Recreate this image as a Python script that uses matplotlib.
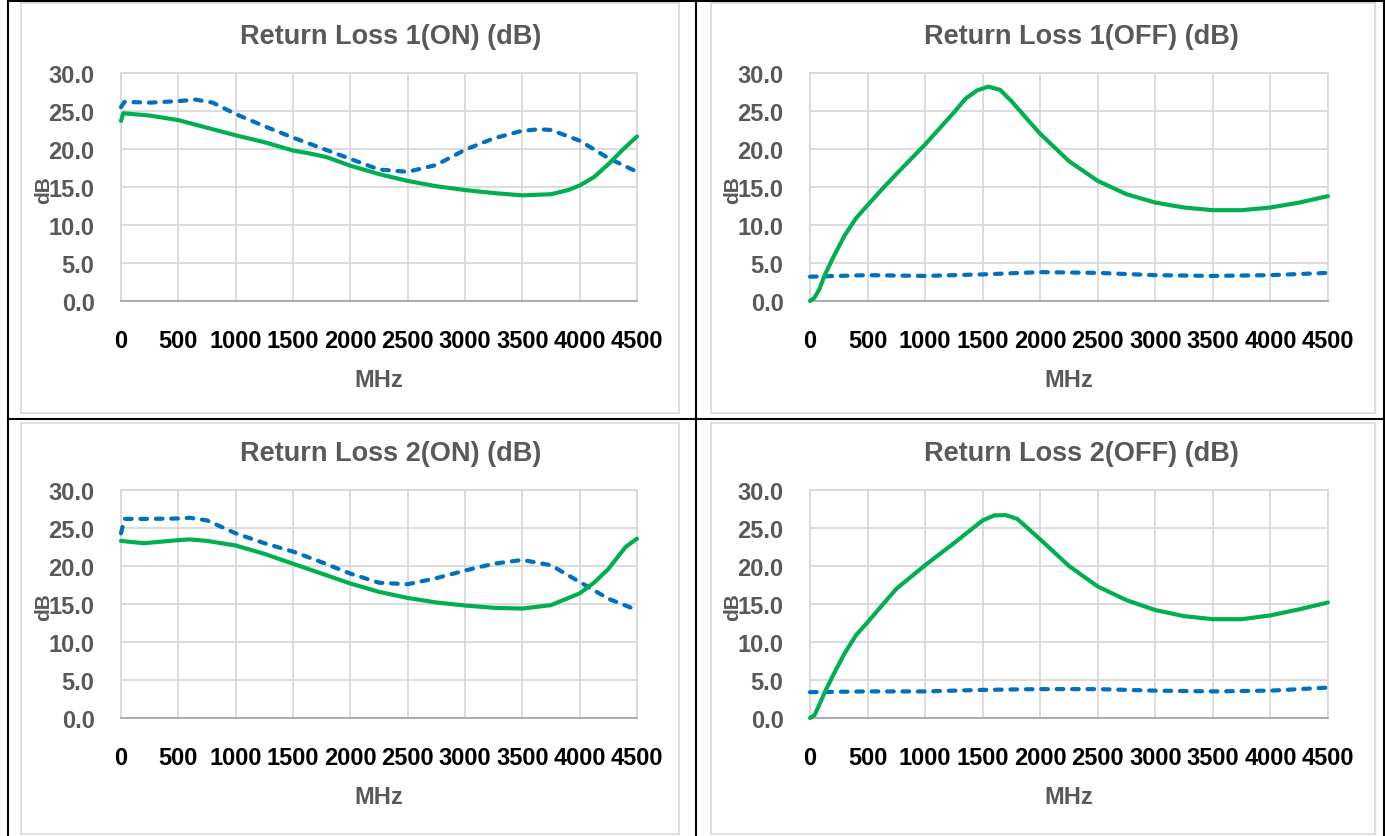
import matplotlib.pyplot as plt
from matplotlib.lines import Line2D
from matplotlib.ticker import FormatStrFormatter

# ---- data (MHz, dB) ----
titles = ["Return Loss 1(ON) (dB)", "Return Loss 1(OFF) (dB)",
          "Return Loss 2(ON) (dB)", "Return Loss 2(OFF) (dB)"]
x_ticks = [0, 500, 1000, 1500, 2000, 2500, 3000, 3500, 4000, 4500]
y_ticks = [0, 5, 10, 15, 20, 25, 30]

# Return Loss 1 (ON)
on1_green_f = [0, 20, 250, 500, 750, 1000, 1250, 1500, 1650, 1800, 2000, 2250, 2500, 2750,
               3000, 3250, 3500, 3750, 3900, 4000, 4125, 4250, 4375, 4500]
on1_green_db = [23.7, 24.7, 24.4, 23.8, 22.8, 21.8, 20.9, 19.8, 19.4, 18.9, 17.8, 16.7, 15.8, 15.1,
                14.6, 14.2, 13.9, 14.05, 14.6, 15.2, 16.3, 18.0, 19.9, 21.65]
on1_blue_f = [0, 30, 250, 500, 650, 800, 1000, 1250, 1500, 1750, 2000, 2250, 2500, 2750,
              3000, 3250, 3500, 3650, 3750, 4000, 4250, 4500]
on1_blue_db = [25.5, 26.2, 26.1, 26.3, 26.5, 26.1, 24.6, 23.0, 21.5, 20.1, 18.7, 17.3, 17.0, 17.9,
               19.9, 21.4, 22.4, 22.6, 22.5, 21.1, 18.8, 17.0]

# Return Loss 1 (OFF)
off1_green_f = [0, 40, 80, 125, 200, 300, 400, 500, 625, 750, 1000, 1250, 1350, 1450, 1550,
                1650, 1750, 1900, 2000, 2250, 2500, 2750, 3000, 3250, 3500, 3750, 4000, 4250, 4500]
off1_green_db = [0.0, 0.45, 1.5, 3.3, 5.7, 8.6, 10.9, 12.6, 14.7, 16.7, 20.6, 24.8, 26.6, 27.7, 28.2,
                 27.8, 26.3, 23.7, 22.0, 18.4, 15.8, 14.05, 12.95, 12.3, 11.95, 11.95, 12.3, 12.95, 13.8]
off1_blue_f = [0, 500, 1000, 1500, 2000, 2500, 3000, 3500, 4000, 4500]
off1_blue_db = [3.2, 3.4, 3.3, 3.5, 3.8, 3.7, 3.4, 3.3, 3.4, 3.7]

# Return Loss 2 (ON)
on2_green_f = [0, 200, 500, 600, 750, 1000, 1250, 1500, 1750, 2000, 2250, 2500, 2750,
               3000, 3250, 3500, 3750, 4000, 4125, 4250, 4400, 4500]
on2_green_db = [23.3, 23.0, 23.4, 23.5, 23.3, 22.7, 21.6, 20.3, 19.0, 17.7, 16.6, 15.8, 15.2,
                14.8, 14.5, 14.4, 14.85, 16.4, 17.8, 19.6, 22.5, 23.6]
on2_blue_f = [0, 30, 250, 500, 600, 750, 1000, 1250, 1500, 1750, 2000, 2250, 2500, 2750,
              3000, 3250, 3500, 3750, 4000, 4250, 4500]
on2_blue_db = [24.3, 26.2, 26.2, 26.25, 26.35, 26.0, 24.3, 23.0, 21.9, 20.5, 19.0, 17.8, 17.6, 18.4,
               19.4, 20.3, 20.8, 20.1, 17.9, 15.7, 14.2]

# Return Loss 2 (OFF)
off2_green_f = [0, 40, 80, 125, 200, 300, 400, 500, 750, 1000, 1250, 1500, 1600, 1700, 1800,
                2000, 2250, 2500, 2750, 3000, 3250, 3500, 3750, 4000, 4250, 4500]
off2_green_db = [0.0, 0.4, 1.7, 3.3, 5.6, 8.5, 10.9, 12.6, 17.0, 20.1, 23.0, 26.0, 26.65, 26.7, 26.2,
                 23.5, 20.0, 17.3, 15.5, 14.2, 13.4, 13.0, 13.0, 13.5, 14.3, 15.2]
off2_blue_f = [0, 500, 1000, 1500, 2000, 2500, 3000, 3500, 4000, 4500]
off2_blue_db = [3.4, 3.5, 3.5, 3.7, 3.8, 3.8, 3.6, 3.5, 3.6, 4.0]

panels = [
    (on1_green_f, on1_green_db, on1_blue_f, on1_blue_db),
    (off1_green_f, off1_green_db, off1_blue_f, off1_blue_db),
    (on2_green_f, on2_green_db, on2_blue_f, on2_blue_db),
    (off2_green_f, off2_green_db, off2_blue_f, off2_blue_db),
]

GREEN = '#00B050'
BLUE = '#0070C0'
GRAY_TXT = '#595959'
GRID = '#D9D9D9'
FONT = ['Liberation Sans', 'DejaVu Sans']

W, H = 1385, 837


def box(l, t, r, b):
    # pixel box -> figure fraction rect
    return [l / W, 1 - b / H, (r - l) / W, (b - t) / H]


def fig_line(fig, x0, y0, x1, y1, color, lw):
    fig.add_artist(Line2D([x0 / W, x1 / W], [1 - y0 / H, 1 - y1 / H],
                          transform=fig.transFigure, color=color, linewidth=lw))


plt.rcParams['font.family'] = FONT
fig = plt.figure(figsize=(13.85, 8.37), dpi=100)

# light gray chart frames
for (l, t, r, b) in [(21, 4, 679, 414), (711, 4, 1375, 414),
                     (21, 424, 679, 835), (711, 424, 1375, 835)]:
    fig_line(fig, l, t, r, t, GRID, 1.2)
    fig_line(fig, l, b, r, b, GRID, 1.2)
    fig_line(fig, l, t, l, b, GRID, 1.2)
    fig_line(fig, r, t, r, b, GRID, 1.2)

# black table lines
fig_line(fig, 8, 2, 1384, 2, 'black', 1.5)
fig_line(fig, 8, 420, 1384, 420, 'black', 1.5)
fig_line(fig, 8, 2, 8, 837, 'black', 1.5)
fig_line(fig, 696, 2, 696, 837, 'black', 1.5)
fig_line(fig, 1384, 2, 1384, 837, 'black', 1.5)

axes_px = [(121, 74, 637, 302), (810, 74, 1328, 302),
           (121, 491, 637, 719), (810, 491, 1328, 719)]

for (l, t, r, b), title, (gf, gd, bf, bd) in zip(axes_px, titles, panels):
    ax = fig.add_axes(box(l, t, r, b))
    ax.plot(bf, bd, color=BLUE, linewidth=3.0, linestyle=(0, (1.6, 2.1)),
            dash_capstyle='round', clip_on=False, zorder=3)
    ax.plot(gf, gd, color=GREEN, linewidth=3.0, solid_capstyle='round',
            solid_joinstyle='round', clip_on=False, zorder=4)
    ax.set_xlim(0, 4500)
    ax.set_ylim(0, 30)
    ax.set_xticks(x_ticks)
    ax.set_yticks(y_ticks)
    ax.yaxis.set_major_formatter(FormatStrFormatter('%.1f'))
    ax.grid(True, color=GRID, linewidth=1.3)
    ax.set_axisbelow(True)
    for s in ['top', 'right', 'left']:
        ax.spines[s].set_color(GRID)
        ax.spines[s].set_linewidth(1.3)
    ax.spines['bottom'].set_color('#A6A6A6')
    ax.spines['bottom'].set_linewidth(1.3)
    ax.tick_params(axis='both', length=0)
    ax.tick_params(axis='y', pad=19, labelsize=17, labelcolor=GRAY_TXT)
    ax.tick_params(axis='x', pad=20, labelsize=17, labelcolor='black')
    for lab in ax.get_xticklabels() + ax.get_yticklabels():
        lab.set_fontweight('bold')

    cx = (l + r) / 2
    fig.text((cx + 12) / W, 1 - (t - 37) / H, title, ha='center', va='center',
             fontsize=19.5, fontweight='bold', color=GRAY_TXT)
    fig.text(cx / W, 1 - (b + 79) / H, 'MHz', ha='center', va='center',
             fontsize=17, fontweight='bold', color=GRAY_TXT)
    fig.text((l - 77) / W, 1 - ((t + b) / 2 + 2) / H, 'dB', ha='center', va='center',
             rotation=90, fontsize=15, fontweight='bold', color=GRAY_TXT)

fig.savefig('out.png', dpi=100)
